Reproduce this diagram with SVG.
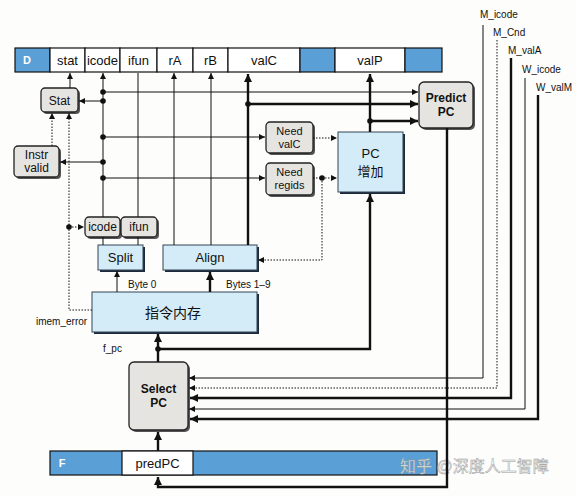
<svg xmlns="http://www.w3.org/2000/svg" width="576" height="496" viewBox="0 0 576 496">
<defs>
<marker id="a" viewBox="0 0 10 10" refX="10" refY="5" markerWidth="6" markerHeight="6" markerUnits="userSpaceOnUse" orient="auto"><path d="M0,0 L10,5 L0,10 z" fill="#111"/></marker>
<marker id="ab" viewBox="0 0 10 10" refX="10" refY="5" markerWidth="8" markerHeight="8" markerUnits="userSpaceOnUse" orient="auto"><path d="M0,0 L10,5 L0,10 z" fill="#111"/></marker>
</defs>
<style>
text{font-family:"Liberation Sans","Noto Sans CJK SC",Arial,sans-serif;fill:#111;text-anchor:middle}
.cell{fill:#fff;stroke:#111;stroke-width:1.2}
.blue{fill:#5a9fd6;stroke:#111;stroke-width:1.2}
.gbox{fill:#e6e4e0;stroke:#222;stroke-width:1.3}
.sh{fill:#555}
.lb{fill:#d4ecf8;stroke:#345;stroke-width:1}
.lbs{fill:#1d2a3a}
.t13{font-size:13px}
.t12{font-size:12px}
.t11{font-size:11px}
.t10{font-size:10px}
.b{font-weight:bold}
.l{text-anchor:start}
.thin{fill:none;stroke:#111;stroke-width:1}
.thick{fill:none;stroke:#111;stroke-width:2.4}
.dot{fill:none;stroke:#111;stroke-width:1;stroke-dasharray:1.5 1.5}
.jn{fill:#111}
</style>
<rect width="576" height="496" fill="#fdfdfb"/>

<g id="regD">
<rect class="blue" x="15" y="48" width="35" height="24"/>
<text x="27" y="64" class="t11 b" style="fill:#fff">D</text>
<rect class="cell" x="50" y="48" width="35" height="24"/><text x="67.5" y="65" class="t13">stat</text>
<rect class="cell" x="85" y="48" width="35" height="24"/><text x="102.5" y="65" class="t13">icode</text>
<rect class="cell" x="120" y="48" width="37" height="24"/><text x="138.5" y="65" class="t13">ifun</text>
<rect class="cell" x="157" y="48" width="36" height="24"/><text x="175" y="65" class="t13">rA</text>
<rect class="cell" x="193" y="48" width="35" height="24"/><text x="210.5" y="65" class="t13">rB</text>
<rect class="cell" x="228" y="48" width="72" height="24"/><text x="264" y="65" class="t13">valC</text>
<rect class="blue" x="300" y="48" width="35" height="24"/>
<rect class="cell" x="335" y="48" width="70" height="24"/><text x="370" y="65" class="t13">valP</text>
<rect class="blue" x="405" y="48" width="37" height="24"/>
</g>

<g id="regF">
<rect class="blue" x="50" y="451" width="387" height="24"/>
<text x="62" y="467" class="t11 b" style="fill:#fff">F</text>
<rect class="cell" x="122" y="451" width="71" height="24"/><text x="157.5" y="468" class="t13">predPC</text>
</g>

<g id="stat">
<rect class="sh" x="43" y="90" width="37" height="24" rx="4"/>
<rect class="gbox" x="41" y="88" width="37" height="24" rx="4"/>
<text x="59.5" y="105" class="t12">Stat</text>
</g>

<g id="instrValid">
<rect class="sh" x="16" y="148" width="45" height="31" rx="4"/>
<rect class="gbox" x="14" y="146" width="45" height="31" rx="4"/>
<text x="36.5" y="159" class="t12">Instr</text>
<text x="36.5" y="172" class="t12">valid</text>
</g>

<g id="icodeBox">
<rect class="sh" x="87" y="219" width="35" height="20" rx="4"/>
<rect class="gbox" x="85" y="217" width="35" height="20" rx="4"/>
<text x="102.5" y="231" class="t12">icode</text>
</g>
<g id="ifunBox">
<rect class="sh" x="123" y="219" width="36" height="20" rx="4"/>
<rect class="gbox" x="121" y="217" width="36" height="20" rx="4"/>
<text x="139" y="231" class="t12">ifun</text>
</g>

<g id="split">
<rect class="lbs" x="100" y="247" width="45" height="25"/>
<rect class="lb" x="98" y="245" width="45" height="25"/>
<text x="120.5" y="262" class="t13">Split</text>
</g>
<g id="align">
<rect class="lbs" x="165" y="247" width="94" height="25"/>
<rect class="lb" x="163" y="245" width="94" height="25"/>
<text x="210" y="262" class="t13">Align</text>
</g>

<g id="imem">
<rect class="lbs" x="94" y="294" width="165" height="40"/>
<rect class="lb" x="92" y="292" width="165" height="40"/>
<text x="173" y="318" class="t13" style="font-size:14px">指令内存</text>
</g>

<g id="needValC">
<rect class="sh" x="268" y="124" width="47" height="31" rx="4"/>
<rect class="gbox" x="266" y="122" width="47" height="31" rx="4"/>
<text x="289.5" y="135" class="t11">Need</text>
<text x="289.5" y="148" class="t11">valC</text>
</g>
<g id="needRegids">
<rect class="sh" x="268" y="165" width="47" height="32" rx="4"/>
<rect class="gbox" x="266" y="163" width="47" height="32" rx="4"/>
<text x="289.5" y="176" class="t11">Need</text>
<text x="289.5" y="189" class="t11">regids</text>
</g>

<g id="pcInc">
<rect class="lbs" x="340" y="134" width="65" height="60"/>
<rect class="lb" x="338" y="132" width="65" height="60"/>
<text x="370.5" y="158" class="t13">PC</text>
<text x="370.5" y="176" class="t13">增加</text>
</g>

<g id="predictPC">
<rect class="sh" x="421" y="84" width="54" height="46" rx="5"/>
<rect class="gbox" x="419" y="82" width="54" height="46" rx="5"/>
<text x="446" y="102" class="t12 b">Predict</text>
<text x="446" y="116" class="t12 b">PC</text>
</g>

<g id="selectPC">
<rect class="sh" x="131" y="364" width="59" height="68" rx="5"/>
<rect class="gbox" x="129" y="362" width="59" height="68" rx="5"/>
<text x="158.5" y="393" class="t12 b">Select</text>
<text x="158.5" y="407" class="t12 b">PC</text>
</g>

<g id="labels">
<text x="480" y="18" class="t10 l">M_icode</text>
<text x="493" y="36" class="t10 l">M_Cnd</text>
<text x="508" y="54" class="t10 l">M_valA</text>
<text x="522" y="73" class="t10 l">W_icode</text>
<text x="536" y="91" class="t10 l">W_valM</text>
<text x="128" y="288" class="t10 l">Byte 0</text>
<text x="226" y="288" class="t10 l">Bytes 1–9</text>
<text x="36" y="325" class="t10 l">imem_error</text>
<text x="103" y="352" class="t10 l">f_pc</text>
<text x="400" y="472" class="l" style="font-size:16px;fill:#fff;fill-opacity:0.8;stroke:#999;stroke-width:0.5">知乎 @深度人工智障</text>
</g>

<g id="connectors">
<path class="thin" d="M70,88 V73" marker-end="url(#a)"/>
<path class="thin" d="M103,217 V73" marker-end="url(#a)"/>
<path class="thin" d="M138,217 V73"/>
<path class="thin" d="M174,245 V73" marker-end="url(#a)"/>
<path class="thin" d="M211,245 V73" marker-end="url(#a)"/>
<path class="thick" d="M248,245 V74" marker-end="url(#ab)"/>
<path class="thin" d="M103,245 V237"/>
<path class="thin" d="M138,245 V237"/>
<path class="thin" d="M103,92 H418" marker-end="url(#a)"/>
<path class="thin" d="M103,101 H79" marker-end="url(#a)"/>
<path class="thin" d="M103,137 H265" marker-end="url(#a)"/>
<path class="thin" d="M103,162 H60" marker-end="url(#a)"/>
<path class="thin" d="M103,178 H265" marker-end="url(#a)"/>
<path class="thick" d="M248,104 H418" marker-end="url(#ab)"/>
<path class="thick" d="M370,121 H418" marker-end="url(#ab)"/>
<path class="thick" d="M370,132 V74" marker-end="url(#ab)"/>
<path class="thick" d="M158,349 H370 V194" marker-end="url(#ab)"/>
<path class="thick" d="M158,362 V334" marker-end="url(#ab)"/>
<path class="thin" d="M117,292 V271" marker-end="url(#a)"/>
<path class="thick" d="M210,292 V272" marker-end="url(#ab)"/>
<path class="thick" d="M158,451 V432" marker-end="url(#ab)"/>
<path class="thick" d="M447,128 V487 H158 V477" marker-end="url(#ab)"/>
<path class="thin" d="M483,25 V378 H189" marker-end="url(#a)"/>
<path class="dot" d="M497,40 V388 H189" marker-end="url(#a)"/>
<path class="thick" d="M511,58 V398 H190" marker-end="url(#ab)"/>
<path class="thin" d="M525,78 V409 H189" marker-end="url(#a)"/>
<path class="thick" d="M538,95 V419 H190" marker-end="url(#ab)"/>
<path class="dot" d="M52,146 V113" marker-end="url(#a)"/>
<path class="dot" d="M92,310 H69 V113" marker-end="url(#a)"/>
<path class="dot" d="M69,227 H84" marker-end="url(#a)"/>
<path class="dot" d="M313,138 H337" marker-end="url(#a)"/>
<path class="dot" d="M313,178 H337" marker-end="url(#a)"/>
<path class="dot" d="M322,178 V260 H258" marker-end="url(#a)"/>
<circle class="jn" cx="103" cy="92" r="2.8"/>
<circle class="jn" cx="103" cy="101" r="2.8"/>
<circle class="jn" cx="103" cy="137" r="2.8"/>
<circle class="jn" cx="103" cy="162" r="2.8"/>
<circle class="jn" cx="103" cy="178" r="2.8"/>
<circle class="jn" cx="248" cy="104" r="2.8"/>
<circle class="jn" cx="370" cy="121" r="2.8"/>
<circle class="jn" cx="69" cy="227" r="2.8"/>
<circle class="jn" cx="322" cy="178" r="2.8"/>
<circle class="jn" cx="158" cy="349" r="2.8"/>
</g>
</svg>
